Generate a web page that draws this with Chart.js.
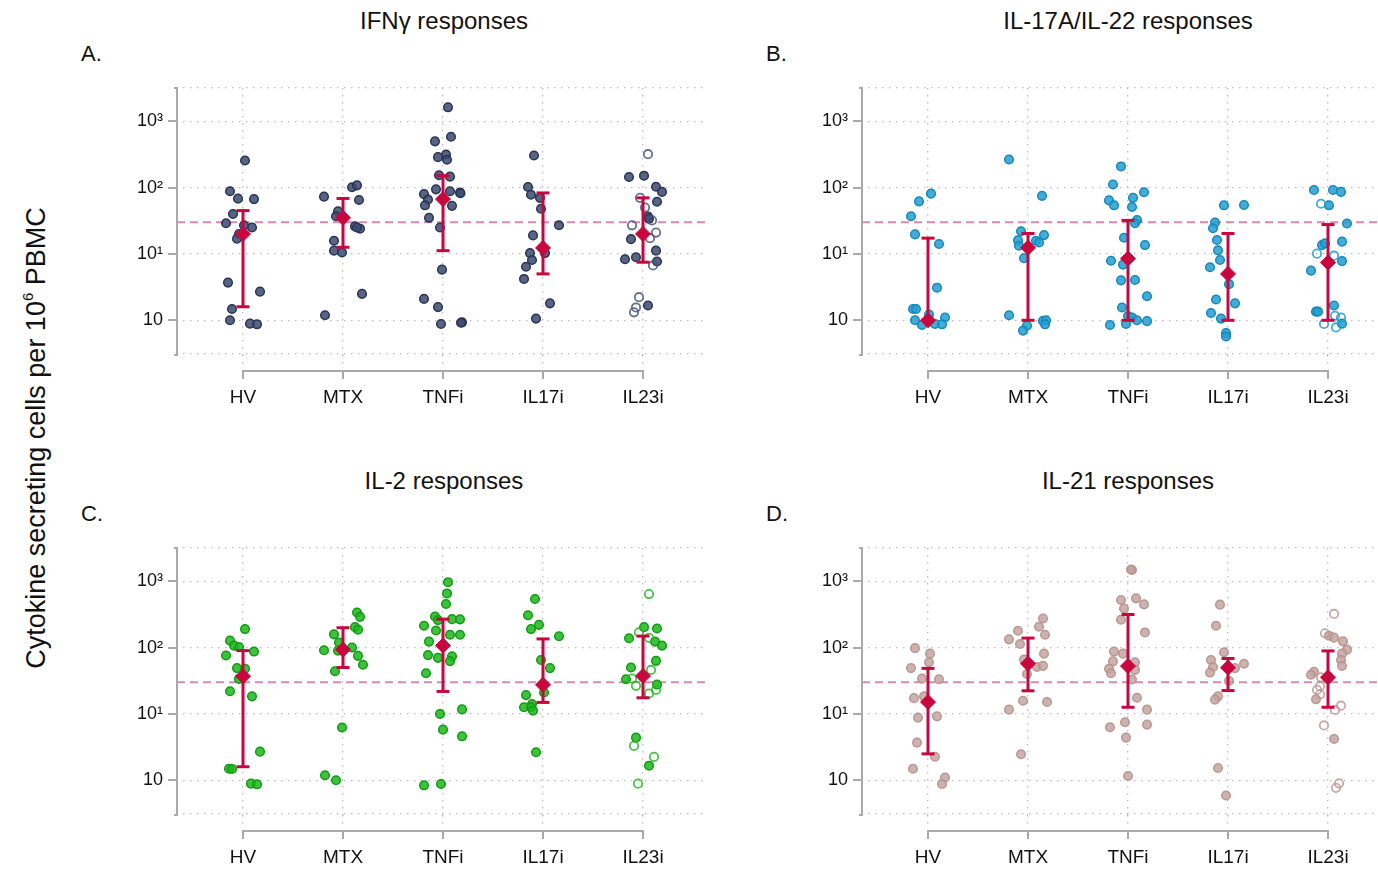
<!DOCTYPE html>
<html>
<head>
<meta charset="utf-8">
<script src="https://cdn.jsdelivr.net/npm/chart.js@4.4.1/dist/chart.umd.min.js"></script>
<style>
  html, body { margin: 0; padding: 0; background: #fff; }
  body { width: 1378px; height: 870px; position: relative; overflow: hidden;
         font-family: "Liberation Sans", Arial, sans-serif; color: #111; }
  canvas { position: absolute; }
  .title { position: absolute; width: 500px; text-align: center; font-size: 24px; line-height: 24px; white-space: nowrap; }
  .letter { position: absolute; font-size: 22px; line-height: 22px; }
  #ytitle { position: absolute; font-size: 27px; line-height: 27px; white-space: nowrap;
            transform: translate(-50%, -50%) rotate(-90deg); left: 38px; top: 438px; }
  #ytitle span { font-size: 15px; position: relative; top: -12px; }
</style>
</head>
<body>
<div class="title" style="left:194px; top:9px;">IFNγ responses</div>
<div class="title" style="left:878px; top:9px;">IL-17A/IL-22 responses</div>
<div class="title" style="left:194px; top:469px;">IL-2 responses</div>
<div class="title" style="left:878px; top:469px;">IL-21 responses</div>
<div class="letter" style="left:81px; top:43px;">A.</div>
<div class="letter" style="left:766px; top:43px;">B.</div>
<div class="letter" style="left:81px; top:503px;">C.</div>
<div class="letter" style="left:766px; top:503px;">D.</div>
<div id="ytitle">Cytokine secreting cells per 10<span>6</span> PBMC</div>

<canvas id="chartA" width="715" height="440" style="left:0px; top:0px;"></canvas>
<canvas id="chartB" width="715" height="440" style="left:685px; top:0px;"></canvas>
<canvas id="chartC" width="715" height="440" style="left:0px; top:460px;"></canvas>
<canvas id="chartD" width="715" height="440" style="left:685px; top:460px;"></canvas>

<script>
const groups = ['HV', 'MTX', 'TNFi', 'IL17i', 'IL23i'];
const yTickValues = [1, 10, 100, 1000];
const yTickLabels = ['10', '10¹', '10²', '10³'];
const yMin = Math.pow(10, -0.5);
const yMax = Math.pow(10, 3.5);
const threshold = 30;

// points: [group index, jitter, value]
const ifngFilled = [
  [0, 0.02, 256], [0, -0.13, 88], [0, -0.05, 68], [0, 0.11, 67], [0, -0.10, 40], [0, -0.17, 29],
  [0, 0.01, 27], [0, 0.09, 25], [0, -0.04, 20], [0, -0.06, 17], [0, -0.15, 3.7], [0, 0.17, 2.7],
  [0, -0.11, 1.48], [0, -0.13, 1.0], [0, 0.07, 0.89], [0, 0.14, 0.87],
  [1, -0.19, 73], [1, 0.09, 101], [1, 0.14, 108], [1, 0.16, 65], [1, -0.05, 44], [1, -0.07, 37],
  [1, 0.12, 26], [1, 0.17, 24], [1, 0.14, 25], [1, -0.09, 15.8], [1, -0.09, 11.2], [1, -0.01, 10.5],
  [1, 0.19, 2.5], [1, -0.18, 1.19],
  [2, 0.05, 1618], [2, 0.08, 583], [2, -0.08, 497], [2, 0.03, 314], [2, -0.05, 287], [2, 0.04, 262],
  [2, -0.04, 153], [2, 0.07, 146], [2, -0.07, 94], [2, 0.07, 88], [2, 0.17, 84], [2, 0.175, 82],
  [2, -0.19, 79.5], [2, -0.15, 66], [2, -0.18, 54], [2, 0.09, 53], [2, -0.14, 35], [2, -0.03, 25],
  [2, -0.01, 5.8], [2, -0.19, 2.1], [2, -0.05, 1.58], [2, -0.02, 0.88], [2, 0.19, 0.93], [2, 0.18, 0.92],
  [3, -0.09, 304], [3, -0.15, 102], [3, -0.12, 78], [3, -0.03, 70], [3, -0.02, 48], [3, 0.16, 27],
  [3, -0.10, 19], [3, -0.13, 10.3], [3, 0.02, 10.3], [3, -0.11, 8.1], [3, -0.17, 6.4], [3, -0.19, 4.2],
  [3, 0.07, 1.8], [3, -0.07, 1.06],
  [4, -0.14, 144], [4, 0.01, 151], [4, 0.13, 103], [4, 0.19, 86], [4, 0.14, 61], [4, 0.05, 36.5],
  [4, 0.06, 34], [4, -0.12, 16.7], [4, 0.13, 11.2], [4, -0.18, 8.3], [4, -0.07, 8.9], [4, 0.14, 7.7],
  [4, 0.05, 1.67]
];
const ifngOpen = [
  [4, 0.05, 318], [4, -0.03, 70], [4, 0.02, 50], [4, 0.09, 32], [4, -0.11, 27], [4, 0.13, 21],
  [4, 0.07, 17.3], [4, 0.10, 6.7], [4, -0.04, 2.23], [4, -0.07, 1.56], [4, -0.09, 1.32]
];
const ifngMedian = [20, 35, 67, 12.3, 20];
const ifngLow = [1.6, 12.6, 11.2, 5.0, 7.5];
const ifngHigh = [45, 68.5, 151, 83, 70];

const il17Filled = [
  [0, 0.03, 81], [0, -0.09, 62], [0, -0.17, 37], [0, -0.13, 19.7], [0, 0.11, 14.1], [0, 0.09, 3.1],
  [0, -0.15, 1.48], [0, -0.12, 1.48], [0, 0.01, 1.22], [0, -0.13, 1.0], [0, 0.17, 1.1], [0, -0.06, 0.85],
  [0, 0.07, 0.88], [0, 0.14, 0.87],
  [1, -0.19, 265], [1, 0.14, 75], [1, -0.07, 22], [1, 0.16, 19.2], [1, -0.10, 16], [1, -0.09, 13.3],
  [1, 0.08, 15.8], [1, 0.11, 14.9], [1, -0.04, 8.6], [1, -0.19, 1.19], [1, 0.15, 0.98], [1, 0.18, 1.0],
  [1, 0.17, 0.87], [1, -0.01, 0.83], [1, -0.05, 0.7],
  [2, -0.07, 208], [2, -0.15, 111], [2, 0.16, 85], [2, 0.05, 70], [2, -0.19, 64], [2, -0.14, 54],
  [2, 0.04, 51], [2, 0.09, 32.5], [2, 0.07, 29], [2, -0.04, 17.5], [2, 0.17, 13.6], [2, -0.17, 7.9],
  [2, -0.05, 6.9], [2, -0.07, 4], [2, 0.07, 4.05], [2, 0.19, 2.3], [2, -0.06, 1.56], [2, 0.0, 1.16],
  [2, 0.04, 1.1], [2, 0.09, 1.0], [2, 0.19, 0.97], [2, -0.18, 0.85], [2, -0.02, 0.88],
  [3, -0.04, 54], [3, 0.16, 54.5], [3, -0.13, 29.7], [3, -0.15, 24.4], [3, -0.11, 16.2], [3, -0.10, 11.3],
  [3, -0.08, 8.1], [3, -0.18, 6.3], [3, 0.01, 3.5], [3, -0.12, 2.06], [3, 0.07, 1.8], [3, -0.17, 1.29],
  [3, -0.07, 1.06], [3, -0.02, 0.64], [3, -0.02, 0.57],
  [4, -0.14, 92], [4, 0.05, 92], [4, 0.13, 86], [4, 0.01, 54], [4, 0.19, 28.7], [4, 0.14, 15.3],
  [4, -0.06, 13.6], [4, -0.03, 14.5], [4, 0.14, 7.8], [4, -0.17, 5.6], [4, 0.06, 1.67], [4, -0.12, 1.35],
  [4, -0.10, 1.35], [4, 0.14, 0.89]
];
const il17Open = [
  [4, -0.07, 57], [4, -0.11, 10.1], [4, 0.06, 9.4], [4, 0.07, 1.17], [4, 0.13, 1.1], [4, -0.04, 0.88],
  [4, 0.08, 0.78]
];
const il17Median = [1.0, 12.4, 8.5, 5.0, 7.4];
const il17Low = [1.0, 1.0, 1.0, 1.0, 1.0];
const il17High = [17.3, 20.3, 32, 20.3, 27.7];

const il2Filled = [
  [0, 0.02, 190], [0, -0.13, 127], [0, -0.09, 107], [0, -0.04, 102], [0, 0.11, 87], [0, -0.17, 76],
  [0, -0.06, 49], [0, 0.02, 48], [0, -0.04, 33.7], [0, -0.13, 22], [0, 0.09, 18.4], [0, 0.17, 2.7],
  [0, -0.14, 1.49], [0, -0.11, 1.48], [0, 0.08, 0.89], [0, 0.14, 0.87],
  [1, 0.14, 337], [1, 0.17, 290], [1, -0.09, 158], [1, 0.12, 203], [1, 0.15, 186], [1, -0.04, 119],
  [1, 0.09, 100], [1, -0.19, 91], [1, -0.05, 90], [1, 0.15, 75], [1, 0.20, 55], [1, -0.08, 44],
  [1, -0.01, 6.25], [1, -0.18, 1.19], [1, -0.07, 1.0],
  [2, 0.05, 966], [2, 0.04, 654], [2, 0.03, 454], [2, -0.08, 294], [2, -0.05, 259], [2, 0.09, 268],
  [2, 0.17, 266], [2, -0.19, 213], [2, -0.07, 181], [2, 0.07, 156], [2, 0.17, 156], [2, -0.14, 123],
  [2, -0.15, 77], [2, -0.05, 70], [2, 0.09, 74], [2, 0.07, 62.5], [2, -0.17, 41], [2, -0.03, 10],
  [2, 0.19, 11.7], [2, 0.0, 5.8], [2, 0.19, 4.6], [2, -0.19, 0.84], [2, -0.02, 0.88],
  [3, -0.08, 539], [3, -0.15, 307], [3, -0.04, 220], [3, -0.12, 190], [3, 0.16, 148], [3, -0.02, 65],
  [3, 0.07, 49], [3, 0.01, 21], [3, -0.17, 19.2], [3, -0.11, 14.1], [3, -0.19, 12.6], [3, -0.12, 12.6],
  [3, -0.10, 11.2], [3, -0.07, 2.65],
  [4, 0.01, 203], [4, 0.14, 194], [4, -0.14, 138], [4, 0.12, 123], [4, 0.19, 107], [4, 0.13, 63],
  [4, -0.12, 50], [4, -0.17, 33.3], [4, 0.14, 27.7], [4, -0.07, 4.4], [4, 0.06, 1.66]
];
const il2Open = [
  [4, 0.06, 640], [4, -0.04, 169], [4, 0.06, 140], [4, 0.08, 46], [4, -0.11, 34], [4, -0.07, 26.5],
  [4, 0.13, 23], [4, 0.06, 20.3], [4, -0.09, 3.3], [4, 0.11, 2.25], [4, -0.05, 0.89]
];
const il2Median = [37, 93, 107, 27.4, 37.3];
const il2Low = [1.6, 50, 21.8, 14.9, 17.5];
const il2High = [90, 199, 268, 135, 149];

const il21Filled = [
  [0, -0.13, 98], [0, 0.02, 81], [0, 0.01, 60], [0, -0.17, 49], [0, -0.06, 34], [0, 0.11, 33.3],
  [0, -0.14, 17.3], [0, -0.04, 18.4], [0, -0.10, 8.8], [0, 0.09, 9.2], [0, -0.11, 3.7], [0, 0.07, 2.26],
  [0, -0.15, 1.49], [0, 0.17, 1.1], [0, 0.14, 0.88],
  [1, 0.15, 274], [1, 0.11, 206], [1, -0.10, 179], [1, 0.17, 156], [1, -0.19, 133], [1, -0.08, 113],
  [1, 0.16, 81], [1, -0.04, 66], [1, 0.09, 51], [1, 0.15, 53], [1, -0.01, 40], [1, -0.05, 15.8],
  [1, 0.19, 15.1], [1, -0.19, 11.6], [1, -0.07, 2.47],
  [2, 0.04, 1476], [2, 0.03, 1500], [2, -0.07, 520], [2, 0.08, 551], [2, 0.16, 448], [2, -0.04, 387],
  [2, -0.07, 262], [2, 0.17, 169], [2, -0.14, 87], [2, -0.05, 81], [2, -0.15, 62], [2, 0.07, 60],
  [2, -0.19, 48], [2, -0.17, 41], [2, 0.07, 46], [2, 0.04, 33], [2, 0.09, 17.5], [2, 0.19, 11.6],
  [2, -0.03, 7.5], [2, -0.18, 6.3], [2, 0.19, 6.9], [2, -0.02, 4.4], [2, 0.0, 1.16],
  [3, -0.08, 443], [3, -0.12, 213], [3, -0.04, 85], [3, -0.17, 65], [3, 0.16, 57], [3, -0.15, 51],
  [3, 0.07, 49], [3, -0.18, 42], [3, 0.01, 31.4], [3, -0.10, 18.4], [3, -0.13, 16.4], [3, -0.10, 1.53],
  [3, -0.02, 0.59],
  [4, 0.01, 151], [4, 0.06, 141], [4, 0.15, 124], [4, 0.19, 93], [4, 0.14, 81], [4, 0.13, 65],
  [4, 0.14, 53], [4, -0.14, 43], [4, -0.17, 39], [4, -0.12, 16.6], [4, 0.06, 4.2]
];
const il21Open = [
  [4, 0.06, 321], [4, -0.03, 164], [4, -0.07, 35.7], [4, -0.08, 26.2], [4, -0.11, 23], [4, -0.08, 19.7],
  [4, 0.13, 13.3], [4, 0.07, 11.5], [4, -0.04, 6.7], [4, 0.11, 0.9], [4, 0.08, 0.77]
];
const il21Median = [15.1, 57, 52.6, 49.7, 35.7];
const il21Low = [2.5, 22.3, 12.6, 22.5, 12.6];
const il21High = [48.6, 139, 315, 68.5, 89];

const crimson = '#c8073e';
const axisGray = '#a9a9a9';
const gridGray = '#bdbdbd';

Chart.defaults.font.family = '"Liberation Sans", Arial, sans-serif';
Chart.defaults.color = '#111';

// axis lines are offset from the plot area, so draw them from the scales
const offsetAxes = {
  id: 'offsetAxes',
  beforeDatasetsDraw(chart) {
    const { ctx, chartArea: a, scales: { y } } = chart;
    const ty = y.getPixelForValue(threshold);
    ctx.save();
    ctx.strokeStyle = 'rgba(210,125,168,0.9)';
    ctx.lineWidth = 1.8;
    ctx.setLineDash([8, 5]);
    ctx.beginPath();
    ctx.moveTo(a.left - 6, ty);
    ctx.lineTo(a.right + 2, ty);
    ctx.stroke();
    ctx.restore();
  },
  afterDraw(chart) {
    const { ctx, chartArea: a, scales: { x, y } } = chart;
    const ax = a.left - 6;
    const by = a.bottom + 16;
    ctx.save();
    ctx.strokeStyle = axisGray;
    ctx.lineWidth = 2;
    ctx.beginPath();
    ctx.moveTo(ax - 3, a.top);
    ctx.lineTo(ax, a.top);
    ctx.lineTo(ax, a.bottom);
    ctx.lineTo(ax - 3, a.bottom);
    yTickValues.forEach(v => {
      const py = Math.round(y.getPixelForValue(v));
      ctx.moveTo(ax - 9, py);
      ctx.lineTo(ax, py);
    });
    const x0 = x.getPixelForValue(0);
    const x1 = x.getPixelForValue(groups.length - 1);
    ctx.moveTo(x0, by + 8);
    ctx.lineTo(x0, by);
    ctx.lineTo(x1, by);
    ctx.lineTo(x1, by + 8);
    for (let i = 1; i < groups.length - 1; i++) {
      const px = x.getPixelForValue(i);
      ctx.moveTo(px, by);
      ctx.lineTo(px, by + 8);
    }
    ctx.stroke();
    ctx.restore();
  }
};

function toPoints(rows) {
  return rows.map(r => ({ x: r[0] + r[1], y: r[2] }));
}

function makePanel(id, filled, open, median, low, high, fill, edge, openEdge) {
  const yGrid = [yMin].concat(yTickValues, [yMax]);
  const barData = [];
  low.forEach((v, i) => {
    barData.push({ x: i, y: v }, { x: i, y: high[i] }, { x: i + 0.5, y: null });
  });
  const capData = low.map((v, i) => ({ x: i, y: v })).concat(high.map((v, i) => ({ x: i, y: v })));

  new Chart(document.getElementById(id), {
    type: 'scatter',
    data: {
      datasets: [
        {
          data: median.map((v, i) => ({ x: i, y: v })),
          pointStyle: 'rectRot', pointRadius: 7.5,
          pointBackgroundColor: crimson, pointBorderColor: crimson, pointBorderWidth: 1,
          order: 0
        },
        {
          data: capData,
          pointStyle: 'line', pointRadius: 6.5,
          pointBorderColor: crimson, pointBorderWidth: 3,
          order: 1
        },
        {
          type: 'line',
          data: barData,
          showLine: true, spanGaps: false,
          borderColor: crimson, borderWidth: 3, pointRadius: 0,
          order: 2
        },
        {
          data: toPoints(open),
          pointRadius: 4.2, pointBorderWidth: 1.8,
          pointBackgroundColor: 'rgba(255,255,255,0)', pointBorderColor: openEdge,
          order: 3
        },
        {
          data: toPoints(filled),
          pointRadius: 4.3, pointBorderWidth: 1.5,
          pointBackgroundColor: fill, pointBorderColor: edge,
          order: 4
        }
      ]
    },
    options: {
      responsive: false,
      animation: false,
      devicePixelRatio: 1,
      layout: { padding: { left: 0, right: 10, top: 88, bottom: 0 } },
      plugins: { legend: { display: false }, tooltip: { enabled: false } },
      scales: {
        x: {
          type: 'linear', min: -0.6, max: 4.62,
          afterBuildTicks: s => { s.ticks = groups.map((g, i) => ({ value: i })); },
          afterFit: s => { s.height = 85; },
          ticks: {
            autoSkip: false, maxRotation: 0, padding: 22,
            font: { size: 19 },
            callback: (v, i) => groups[i]
          },
          grid: {
            color: gridGray, lineWidth: 1.3, drawTicks: true, tickLength: 9,
            tickColor: gridGray, tickBorderDash: [1.5, 5.5]
          },
          border: { display: false, dash: [1.5, 5.5] }
        },
        y: {
          type: 'logarithmic', min: yMin, max: yMax,
          afterBuildTicks: s => { s.ticks = yGrid.map(v => ({ value: v })); },
          afterFit: s => { s.width = 183; },
          ticks: {
            autoSkip: false, padding: 20,
            font: { size: 18 },
            callback: (v, i) => (i > 0 && i <= yTickLabels.length) ? yTickLabels[i - 1] : ''
          },
          grid: { color: gridGray, lineWidth: 1.3, drawTicks: false },
          border: { display: false, dash: [1.5, 5.5] }
        }
      }
    },
    plugins: [offsetAxes]
  });
}

makePanel('chartA', ifngFilled, ifngOpen, ifngMedian, ifngLow, ifngHigh,
  'rgba(60,74,112,0.86)', '#2a3555', 'rgba(72,86,124,0.85)');
makePanel('chartB', il17Filled, il17Open, il17Median, il17Low, il17High,
  'rgba(38,158,206,0.86)', '#1589bd', 'rgba(35,155,205,0.85)');
makePanel('chartC', il2Filled, il2Open, il2Median, il2Low, il2High,
  'rgba(32,182,32,0.86)', '#119d11', 'rgba(40,185,40,0.85)');
makePanel('chartD', il21Filled, il21Open, il21Median, il21Low, il21High,
  'rgba(198,165,160,0.85)', 'rgba(180,145,140,0.9)', 'rgba(190,155,150,0.85)');
</script>
</body>
</html>
